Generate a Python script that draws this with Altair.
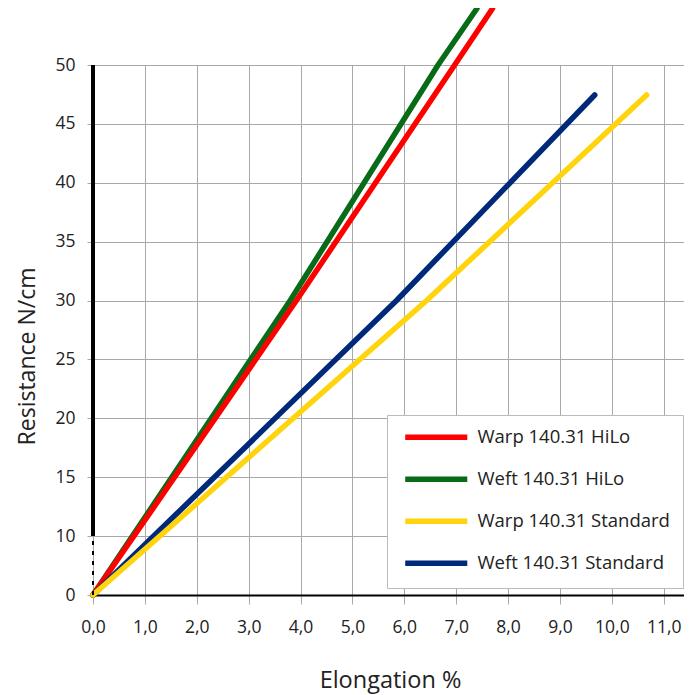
import altair as alt
import pandas as pd

# ---- data ----
series_names = ["Warp 140.31 HiLo", "Weft 140.31 HiLo", "Warp 140.31 Standard", "Weft 140.31 Standard"]
series_colors = ["#ff0000", "#076b17", "#ffd40d", "#00297a"]
series_widths = [5.5, 5.5, 6.5, 6.5]

warp_hilo_x = [0.0, 0.79, 3.92, 6.97, 7.70]
warp_hilo_y = [0.0, 10.0, 30.0, 50.0, 54.8]
weft_hilo_x = [0.0, 0.76, 3.80, 6.65, 7.40]
weft_hilo_y = [0.0, 10.0, 30.0, 50.0, 54.8]
warp_std_x = [0.0, 1.29, 6.43, 10.67]
warp_std_y = [0.0, 10.0, 30.0, 47.45]
weft_std_x = [0.0, 1.17, 5.85, 9.67]
weft_std_y = [0.0, 10.0, 30.0, 47.45]

x_ticks = [0, 1, 2, 3, 4, 5, 6, 7, 8, 9, 10, 11]
y_ticks = [0, 10, 15, 20, 25, 30, 35, 40, 45, 50]

rows = []
for name, xs, ys in [
    (series_names[0], warp_hilo_x, warp_hilo_y),
    (series_names[1], weft_hilo_x, weft_hilo_y),
    (series_names[2], warp_std_x, warp_std_y),
    (series_names[3], weft_std_x, weft_std_y),
]:
    for i, (xv, yv) in enumerate(zip(xs, ys)):
        rows.append({"series": name, "x": xv, "y": yv, "i": i})
df = pd.DataFrame(rows)

FONT = "Open Sans"
W, H = 591, 530

xscale = alt.Scale(domain=[0, 11.39], nice=False, zero=True)
yscale = alt.Scale(domain=[0, 10, 50], range=[H, 471, 0], nice=False)

x_enc = alt.X(
    "x:Q",
    scale=xscale,
    axis=alt.Axis(
        values=x_ticks,
        labelExpr="replace(format(datum.value, '.1f'), '.', ',')",
        labelFlush=False,
        labelOverlap=False,
        grid=True,
        gridColor="#a8a8a8",
        gridWidth=1,
        tickColor="#a8a8a8",
        tickSize=9,
        labelPadding=14,
        labelFont=FONT,
        labelFontSize=17.5,
        labelColor="#222222",
        domainColor="#000000",
        domainWidth=2,
        title="Elongation %",
        titleFont=FONT,
        titleFontSize=23.5,
        titleFontWeight="normal",
        titleColor="#222222",
        titleX=297,
        titleY=92,
        titleAlign="center",
        titleBaseline="alphabetic",
    ),
)
y_enc = alt.Y(
    "y:Q",
    scale=yscale,
    axis=alt.Axis(
        values=y_ticks,
        labelFlush=False,
        labelOverlap=False,
        domain=False,
        grid=True,
        gridColor="#a8a8a8",
        gridWidth=1,
        tickColor="#a8a8a8",
        tickSize=6,
        labelPadding=12,
        labelFont=FONT,
        labelFontSize=17.5,
        labelColor="#222222",
        title="Resistance N/cm",
        titleFont=FONT,
        titleFontSize=23,
        titleFontWeight="normal",
        titleColor="#222222",
        titleAngle=270,
        titleX=-66,
        titleY=291,
        titleAlign="center",
        titleBaseline="middle",
    ),
)

color_enc = alt.Color(
    "series:N",
    scale=alt.Scale(domain=series_names, range=series_colors),
    legend=alt.Legend(
        orient="none",
        legendX=294,
        legendY=350,
        title=None,
        symbolType="M-6,0L6,0",
        symbolSize=107,
        symbolStrokeWidth=6.5,
        symbolOffset=27,
        labelOffset=32,
        padding=13,
        rowPadding=19,
        fillColor="white",
        strokeColor="#bbbbbb",
        labelFont=FONT,
        labelFontSize=18.5,
        labelColor="#222222",
        labelLimit=400,
    ),
)
width_enc = alt.StrokeWidth(
    "series:N",
    scale=alt.Scale(domain=series_names, range=series_widths),
    legend=None,
)

axis_solid = alt.Chart(df).mark_rule(color="#000000", strokeWidth=2.5).encode(
    x=alt.datum(0), y=alt.datum(10), y2=alt.datum(50)
)
axis_dash = alt.Chart(df).mark_rule(color="#000000", strokeWidth=2, strokeDash=[4, 6]).encode(
    x=alt.datum(0), y=alt.datum(0), y2=alt.datum(10)
)

draw_order = [series_names[1], series_names[0], series_names[3], series_names[2]]
line_layers = []
for s in draw_order:
    line_layers.append(
        alt.Chart(df)
        .transform_filter(alt.datum.series == s)
        .mark_line(strokeCap="round", strokeJoin="round", clip=False)
        .encode(x=x_enc, y=y_enc, color=color_enc, strokeWidth=width_enc, order="i:Q")
    )

chart = (
    alt.layer(*line_layers, axis_solid, axis_dash)
    .properties(
        width=W,
        height=H,
        autosize=alt.AutoSizeParams(type="none"),
        padding={"left": 85, "top": 57, "right": 0, "bottom": 100},
    )
    .configure_view(stroke=None)
    .configure(background="white")
)

chart.save("out.html", embed_options={"renderer": "svg", "actions": False})
